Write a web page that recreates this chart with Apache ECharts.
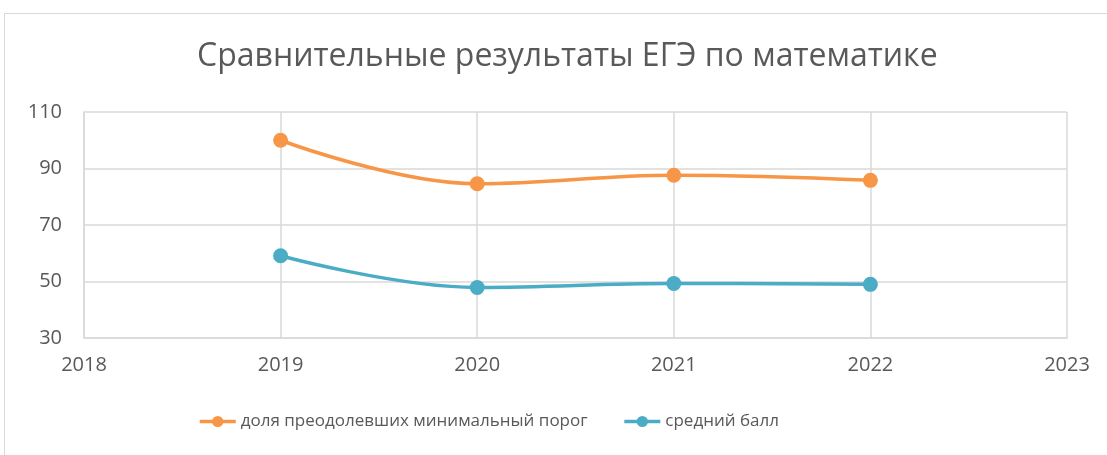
<!DOCTYPE html>
<html>
<head>
<meta charset="utf-8">
<script src="https://cdn.jsdelivr.net/npm/echarts@6/dist/echarts.min.js"></script>
<style>
    html, body {margin: 0; padding: 0; background: #fff;}
    #frame {position: absolute; left: 4px; top: 13px; width: 1110px; height: 450px; border: 1px solid #d9d9d9; box-sizing: border-box;}
    #main {position: absolute; left: 0; top: 0; width: 1107px; height: 455px;}
</style>
</head>
<body>
<div id="frame"></div>
<div id="main"></div>
<script>
    var years = [2019, 2020, 2021, 2022];
    var passShare = [100, 84.6, 87.6, 85.8];
    var avgScore = [59.1, 47.9, 49.3, 49.0];
    var seriesNames = ['доля преодолевших минимальный порог', 'средний балл'];

    function pairs(vals) {
        return years.map(function (y, i) {
            return [y, vals[i]];
        });
    }

    var chart = echarts.init(document.getElementById('main'));
    var font = '"Open Sans", sans-serif';
    chart.setOption({
        animation: false,
        title: {
            text: 'Сравнительные результаты ЕГЭ по математике',
            left: 192, top: 36,
            textStyle: {fontFamily: font, fontSize: 32, fontWeight: 'normal', color: '#595959'}
        },
        grid: {left: 84, right: 40, top: 112, bottom: 117},
        legend: {
            bottom: 20, left: 193, itemWidth: 36, itemHeight: 14, itemGap: 35,
            lineStyle: {width: 3.5},
            textStyle: {fontFamily: font, fontSize: 17, color: '#595959'},
            data: seriesNames
        },
        xAxis: {
            type: 'value', min: 2018, max: 2023, interval: 1,
            axisLine: {show: true, lineStyle: {color: '#d9d9d9', width: 1.5}},
            axisTick: {show: false},
            splitLine: {show: true, lineStyle: {color: '#d9d9d9', width: 1.5}},
            axisLabel: {fontFamily: font, fontSize: 20, color: '#595959', margin: 17,
                formatter: function (v) { return String(v); }}
        },
        yAxis: {
            type: 'value', min: 30, max: 110, interval: 20,
            axisLine: {show: true, lineStyle: {color: '#d9d9d9', width: 1.5}},
            axisTick: {show: false},
            splitLine: {show: true, lineStyle: {color: '#d9d9d9', width: 1.5}},
            axisLabel: {fontFamily: font, fontSize: 20, color: '#595959', margin: 22}
        },
        series: [
            {
                name: seriesNames[0], type: 'line', smooth: 0.4,
                data: pairs(passShare),
                symbol: 'circle', symbolSize: 15,
                lineStyle: {width: 3.5, color: '#F79646'},
                itemStyle: {color: '#F79646'}
            },
            {
                name: seriesNames[1], type: 'line', smooth: 0.4,
                data: pairs(avgScore),
                symbol: 'circle', symbolSize: 15,
                lineStyle: {width: 3.5, color: '#4BACC6'},
                itemStyle: {color: '#4BACC6'}
            }
        ]
    });
</script>
</body>
</html>
